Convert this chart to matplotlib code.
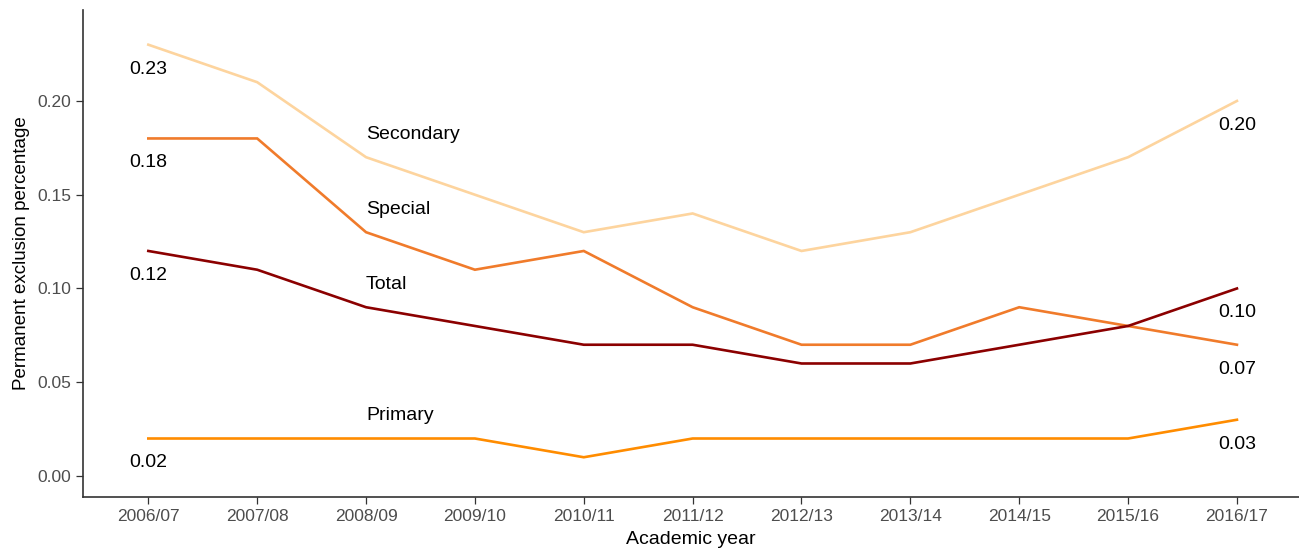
import matplotlib
matplotlib.use("Agg")
import matplotlib.pyplot as plt

plt.rcParams["font.family"] = ["Liberation Sans", "DejaVu Sans"]

years = ["2006/07", "2007/08", "2008/09", "2009/10", "2010/11", "2011/12",
         "2012/13", "2013/14", "2014/15", "2015/16", "2016/17"]
secondary = [0.23, 0.21, 0.17, 0.15, 0.13, 0.14, 0.12, 0.13, 0.15, 0.17, 0.20]
special = [0.18, 0.18, 0.13, 0.11, 0.12, 0.09, 0.07, 0.07, 0.09, 0.08, 0.07]
total = [0.12, 0.11, 0.09, 0.08, 0.07, 0.07, 0.06, 0.06, 0.07, 0.08, 0.10]
primary = [0.02, 0.02, 0.02, 0.02, 0.01, 0.02, 0.02, 0.02, 0.02, 0.02, 0.03]

series = [
    ("Secondary", secondary, "#FDD49E"),
    ("Special", special, "#F07B2B"),
    ("Total", total, "#8B0000"),
    ("Primary", primary, "#FF8C00"),
]

fig = plt.figure(figsize=(12.99, 5.49), dpi=100)
ax = fig.add_axes([0.0639, 0.0947, 0.9361, 0.8871])

x = list(range(len(years)))
for name, vals, col in series:
    ax.plot(x, vals, color=col, lw=1.9, solid_joinstyle="miter")
    # series name near 2008/09
    ax.text(x[2], vals[2] + 0.012, name, ha="left", va="center",
            fontsize=14, color="black")
    # end values
    for i in (0, len(x) - 1):
        ax.text(x[i], vals[i] - 0.013, f"{vals[i]:.2f}", ha="center", va="center",
                fontsize=14, color="black")

ax.set_xlim(-0.6, 10.57)
ax.set_ylim(-0.0112, 0.2485)
ax.set_xticks(x)
ax.set_xticklabels(years)
ax.set_yticks([0.0, 0.05, 0.10, 0.15, 0.20])
ax.set_yticklabels(["0.00", "0.05", "0.10", "0.15", "0.20"])
ax.tick_params(axis="both", colors="#333333", labelcolor="#4D4D4D",
               labelsize=12.5, length=5, width=0.9)

for side in ("top", "right"):
    ax.spines[side].set_visible(False)
for side in ("left", "bottom"):
    ax.spines[side].set_color("#333333")
    ax.spines[side].set_linewidth(1.2)

ax.set_xlabel("Academic year", fontsize=14, labelpad=5)
ax.set_ylabel("Permanent exclusion percentage", fontsize=13.5, labelpad=5)

fig.savefig("out.png", dpi=100)
